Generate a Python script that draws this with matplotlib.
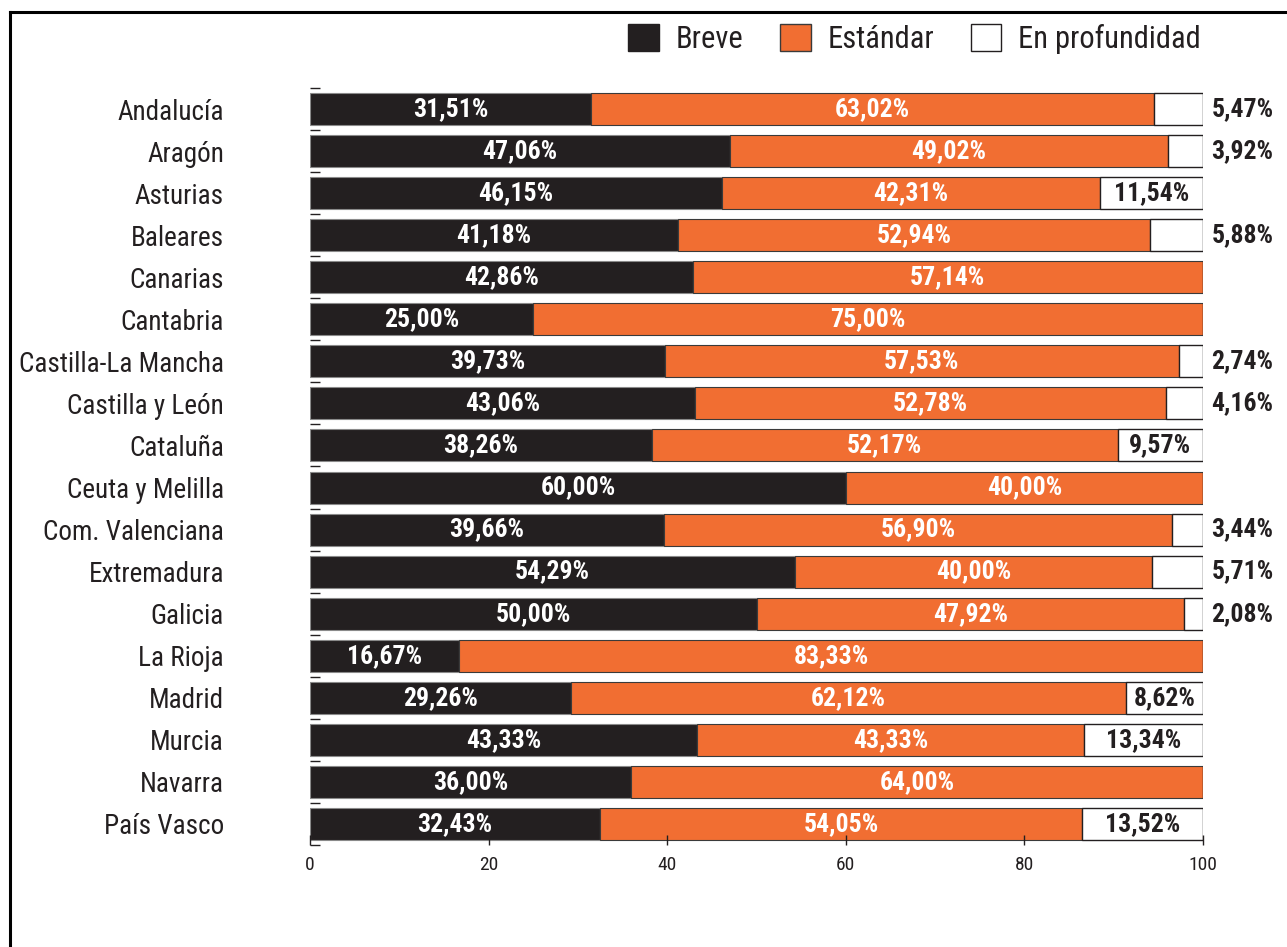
import matplotlib
matplotlib.use("Agg")
import matplotlib.pyplot as plt
from matplotlib import font_manager
from matplotlib.patches import Patch
from matplotlib.lines import Line2D
import numpy as np

regions = ["Andalucía", "Aragón", "Asturias", "Baleares", "Canarias", "Cantabria",
           "Castilla-La Mancha", "Castilla y León", "Cataluña", "Ceuta y Melilla",
           "Com. Valenciana", "Extremadura", "Galicia", "La Rioja", "Madrid",
           "Murcia", "Navarra", "País Vasco"]
breve = [31.51, 47.06, 46.15, 41.18, 42.86, 25.00, 39.73, 43.06, 38.26, 60.00,
         39.66, 54.29, 50.00, 16.67, 29.26, 43.33, 36.00, 32.43]
estandar = [63.02, 49.02, 42.31, 52.94, 57.14, 75.00, 57.53, 52.78, 52.17, 40.00,
            56.90, 40.00, 47.92, 83.33, 62.12, 43.33, 64.00, 54.05]
profundidad = [5.47, 3.92, 11.54, 5.88, 0, 0, 2.74, 4.16, 9.57, 0,
               3.44, 5.71, 2.08, 0, 8.62, 13.34, 0, 13.52]
series_names = ["Breve", "Estándar", "En profundidad"]
xticks = [0, 20, 40, 60, 80, 100]

names = {f.name for f in font_manager.fontManager.ttflist}
fam = "DejaVu Sans"
for cand in ["Liberation Sans Narrow", "Roboto Condensed", "Open Sans Condensed", "Liberation Sans"]:
    if cand in names:
        fam = cand
        break
plt.rcParams["font.family"] = [fam, "DejaVu Sans"]

DARK = "#231f20"
ORANGE = "#f16e32"
EDGE = "#3a3a3a"

fig = plt.figure(figsize=(12.87, 9.47), dpi=100)
ax = fig.add_axes([310 / 1287, 1 - 845 / 947, 893 / 1287, (845 - 88) / 947])

y = np.arange(len(regions))
h = 0.76
b = np.array(breve)
e = np.array(estandar)
p = np.array(profundidad)
ax.barh(y, b, height=h, color=DARK, edgecolor="#8a8a8a", linewidth=0.8)
ax.barh(y, e, left=b, height=h, color=ORANGE, edgecolor=EDGE, linewidth=0.8)
ax.barh(y, p, left=b + e, height=h, color="white", edgecolor=DARK, linewidth=1.0)

def fmt(v):
    return f"{v:.2f}".replace(".", ",") + "%"

lab_fs = 18.5
for i in range(len(regions)):
    ax.text(b[i] / 2, y[i], fmt(b[i]), ha="center", va="center", color="white",
            fontsize=lab_fs, fontweight="bold")
    ax.text(b[i] + e[i] / 2, y[i], fmt(e[i]), ha="center", va="center", color="white",
            fontsize=lab_fs, fontweight="bold")
    if p[i] > 0:
        if p[i] >= 8:
            ax.text(b[i] + e[i] + p[i] / 2, y[i], fmt(p[i]), ha="center", va="center",
                    color=DARK, fontsize=lab_fs, fontweight="bold")
        else:
            ax.annotate(fmt(p[i]), xy=(100, y[i]), xytext=(6, 0), textcoords="offset points",
                        ha="left", va="center", color=DARK, fontsize=lab_fs,
                        fontweight="bold", annotation_clip=False)

ax.set_xlim(0, 100)
ax.set_ylim(len(regions) - 0.5, -0.5)
ax.set_yticks(y)
ax.set_yticklabels(regions, fontsize=19.5, color=DARK)
ax.set_yticks(np.arange(len(regions) + 1) - 0.5, minor=True)
ax.tick_params(axis="y", which="major", length=0, pad=62)
ax.tick_params(axis="y", which="minor", length=7, direction="in", color=DARK, width=1)
ax.set_xticks(xticks)
ax.set_xticklabels([str(t) for t in xticks], fontsize=14, color=DARK)
ax.tick_params(axis="x", length=7, direction="in", color=DARK, width=1, pad=8)
for s in ax.spines.values():
    s.set_visible(False)

handles = [Patch(facecolor=DARK, edgecolor=DARK),
           Patch(facecolor=ORANGE, edgecolor=EDGE),
           Patch(facecolor="white", edgecolor=DARK)]
fig.legend(handles, series_names, loc="upper right", bbox_to_anchor=(1201 / 1287, 1 - 24 / 947),
           ncol=3, frameon=False, fontsize=22, handlelength=1.0, handleheight=1.0,
           handletextpad=0.55, columnspacing=1.2, labelcolor=DARK,
           borderpad=0, borderaxespad=0)

# figure frame
fig.add_artist(Line2D([10 / 1287, 10 / 1287], [0, 1 - 12 / 947], transform=fig.transFigure,
                      color="black", linewidth=2.2))
fig.add_artist(Line2D([10 / 1287, 1], [1 - 12 / 947, 1 - 12 / 947], transform=fig.transFigure,
                      color="black", linewidth=2.2))

fig.savefig("out.png", dpi=100)
